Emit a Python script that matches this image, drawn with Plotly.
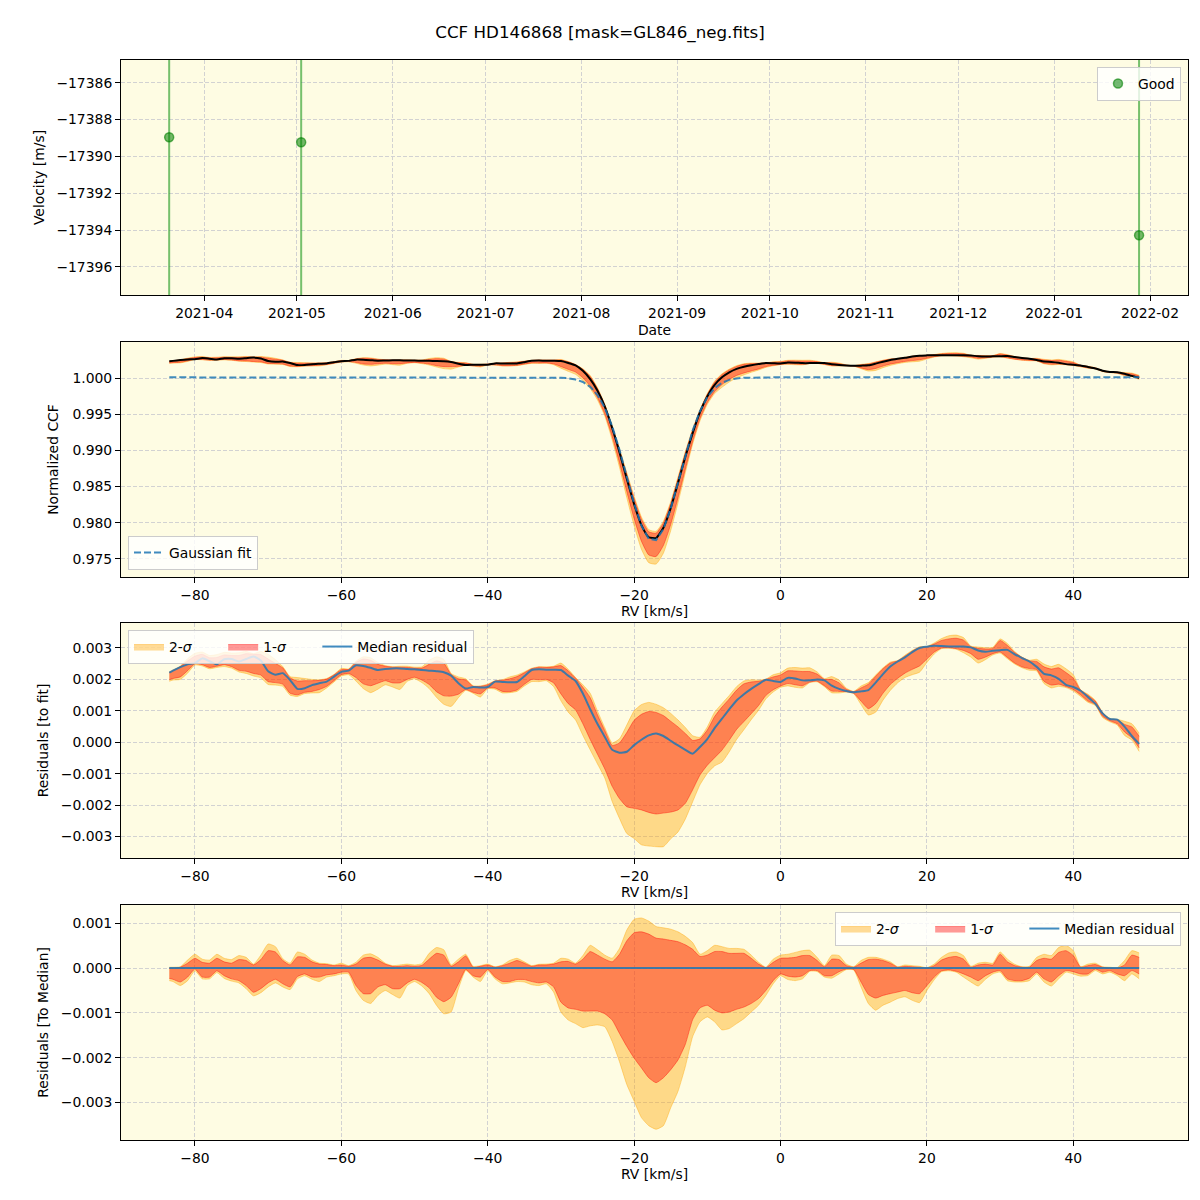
import numpy as np
import plotly.graph_objects as go

FONT = "DejaVu Sans"
TITLE = "CCF HD146868 [mask=GL846_neg.fits]"

# ---------------- Panel 1 : RV time series ----------------
obs_dates = ["2021-03-20 16:00", "2021-05-02 09:00", "2022-01-28 11:00"]
obs_vel = [-17388.96, -17389.23, -17394.28]
obs_err = [30.0, 30.0, 30.0]

# ---------------- CCF grid (km/s) ----------------
rv = [-83.5] + list(range(-83, 50))

# Gaussian fit parameters
fit_continuum = 1.0001
fit_depth = 0.02265
fit_center = -17.4
fit_sigma = 3.6

# median residual to fit, units of 1e-4
median_resid_e4 = [
    22.2, 22.8, 23.9, 24.8, 25.2, 26.7, 25.8, 24.8, 26.4, 26.5,   # -83.5 .. -75
    25.7, 26.5, 27.3, 26.0, 22.6, 21.5, 22.0, 19.8, 17.0, 17.2,   # -74 .. -65
    18.2, 18.8, 19.3, 20.9, 22.4, 22.8, 24.5, 24.3, 23.7, 23.0,   # -64 .. -55
    23.3, 23.5, 23.5, 23.3, 23.2, 23.0, 22.8, 22.6, 22.3, 21.2,   # -54 .. -45
    18.8, 17.1, 17.6, 17.4, 17.6, 19.3, 19.2, 19.1, 19.2, 21.0,   # -44 .. -35
    23.0, 23.2, 23.1, 23.1, 23.0, 21.2, 19.5, 15.5, 10.5, 5.8,    # -34 .. -25
    1.7, -2.4, -3.3, -3.0, -0.9, 0.8, 2.2, 2.8, 2.0, 0.5,         # -24 .. -15
    -1.0, -2.4, -3.6, -1.5, 1.0, 4.5, 7.5, 10.5, 13.3, 15.3,      # -14 .. -5
    17.0, 18.5, 19.9, 19.5, 19.2, 20.5, 20.3, 19.7, 19.7, 20.0,   # -4 .. 5
    19.7, 18.0, 17.0, 16.3, 15.9, 16.2, 16.6, 19.0, 21.7, 24.1,   # 6 .. 15
    25.7, 27.0, 28.7, 30.0, 30.4, 30.7, 30.6, 30.5, 30.5, 30.5,   # 16 .. 25
    30.2, 29.2, 28.8, 29.1, 29.3, 29.4, 28.0, 26.8, 25.7, 24.0,   # 26 .. 35
    21.8, 21.3, 20.2, 18.3, 17.6, 16.4, 14.4, 12.3, 9.2, 7.4,     # 36 .. 45
    7.2, 5.0, 2.0, -0.5,                                          # 46 .. 49
]

# percentile bands relative to the median residual, units of 1e-4
hi2_e4 = [
    0.2, 0.2, 0.3, 1.8, 3.1, 2.0, 1.8, 3.1, 2.2, 1.9,
    2.8, 2.4, 0.9, 2.9, 5.4, 4.8, 2.1, 1.1, 3.6, 3.1,
    1.8, 1.1, 1.0, 0.7, 1.1, 0.55, 1.3, 2.9, 3.2, 2.4,
    1.1, 0.55, 0.7, 0.9, 0.7, 1.0, 3.3, 4.6, 4.1, 0.7,
    2.0, 3.1, 0.4, 0.55, 0.9, 0.3, 0.7, 1.7, 2.2, 1.4,
    0.55, 0.85, 0.9, 1.1, 2.2, 2.0, 1.1, 2.8, 5.1, 4.1,
    2.9, 2.2, 4.4, 8.5, 10.9, 11.2, 10.5, 9.3, 9.0, 8.7,
    8.1, 7.1, 5.7, 3.1, 3.9, 5.1, 4.8, 4.4, 4.4, 4.2,
    2.9, 1.3, 0.2, 2.0, 2.9, 3.1, 3.5, 3.9, 4.0, 2.4,
    0.55, 2.9, 2.8, 0.9, 0.3, 1.7, 2.4, 2.4, 2.0, 1.4,
    0.3, 0.7, 0.55, 0.4, 0.1, 0.9, 2.4, 3.4, 3.6, 2.8,
    0.4, 1.1, 1.3, 1.1, 3.6, 2.0, 0.85, 0.3, 0.4, 2.4,
    3.1, 2.8, 4.6, 5.1, 3.9, 0.3, 0.9, 1.1, 0.3, 0.2,
    0.1, 1.7, 3.9, 3.4,
]
hi1_e4 = [
    0.0, 0.0, 0.2, 1.1, 2.2, 1.3, 1.1, 2.2, 1.4, 1.1,
    1.9, 1.7, 0.7, 1.9, 3.9, 3.6, 1.7, 0.7, 2.5, 2.4,
    1.4, 0.9, 0.8, 0.55, 0.7, 0.4, 0.9, 2.2, 2.4, 1.8,
    0.9, 0.4, 0.4, 0.55, 0.4, 0.6, 2.0, 3.3, 2.9, 0.4,
    1.4, 2.7, 0.2, 0.4, 0.7, 0.2, 0.55, 1.1, 1.7, 1.1,
    0.4, 0.7, 0.7, 0.9, 1.4, 1.5, 0.9, 2.0, 3.7, 2.9,
    2.0, 1.4, 3.1, 6.1, 7.9, 8.1, 7.6, 6.7, 6.5, 6.2,
    5.9, 5.2, 4.2, 2.6, 2.9, 3.7, 3.7, 3.3, 3.3, 3.3,
    2.2, 0.9, 0.1, 1.3, 2.2, 2.25, 2.4, 2.8, 2.8, 1.7,
    0.3, 2.0, 1.9, 0.55, 0.2, 1.1, 1.9, 2.0, 1.7, 1.1,
    0.2, 0.4, 0.3, 0.2, 0.0, 0.55, 1.8, 2.4, 2.6, 2.0,
    0.2, 0.7, 0.9, 0.7, 3.1, 1.4, 0.55, 0.2, 0.2, 1.7,
    2.2, 2.0, 3.5, 3.9, 2.8, 0.2, 0.55, 0.8, 0.2, 0.0,
    0.0, 0.7, 2.9, 2.4,
]
lo1_e4 = [
    -2.3, -2.5, -3.1, -2.0, -0.2, -2.0, -2.0, -0.6, -1.7, -2.4,
    -2.8, -3.9, -5.4, -4.6, -3.3, -2.5, -3.5, -4.2, -1.9, -1.3,
    -2.0, -2.0, -1.5, -1.3, -0.9, -0.9, -3.9, -5.7, -5.7, -4.2,
    -3.7, -4.6, -4.6, -3.3, -2.5, -3.2, -4.4, -6.5, -7.5, -6.5,
    -3.5, -0.3, -1.7, -2.0, -0.3, -2.0, -3.0, -3.0, -2.55, -2.55,
    -3.0, -3.3, -3.1, -4.2, -7.6, -8.9, -9.2, -9.6, -9.6, -9.6,
    -10.2, -11.6, -14.6, -17.5, -20.1, -22.3, -24.5, -25.6, -24.5, -22.7,
    -20.5, -17.0, -11.5, -8.9, -8.3, -9.4, -10.0, -9.8, -9.2, -8.7,
    -7.9, -6.8, -5.0, -2.8, -1.3, -1.8, -2.0, -1.7, -0.55, -0.55,
    -1.7, -1.7, -0.8, -0.2, -0.3, -3.1, -5.9, -6.7, -6.1, -5.7,
    -5.35, -5.0, -5.5, -5.7, -3.9, -2.0, -0.6, -0.4, -0.7, -1.3,
    -2.0, -2.8, -1.7, -0.9, -0.55, -2.4, -2.8, -2.8, -2.25, -0.9,
    -2.4, -3.1, -1.7, -0.55, -0.8, -1.3, -1.3, -0.2, -0.9, -0.55,
    -1.3, -1.7, -0.55, -1.3,
]
lo2_e4 = [
    -2.8, -3.0, -3.9, -2.8, -0.6, -2.4, -2.4, -1.0, -2.3, -2.9,
    -3.3, -4.6, -6.2, -5.5, -4.2, -3.3, -4.2, -4.8, -2.4, -1.7,
    -2.5, -3.0, -2.0, -1.7, -1.3, -1.3, -5.0, -7.2, -7.9, -6.1,
    -5.0, -5.9, -6.7, -3.9, -3.0, -4.0, -5.7, -8.3, -10.2, -9.8,
    -4.6, -0.55, -2.0, -3.0, -0.55, -2.4, -3.5, -3.3, -3.0, -3.1,
    -3.7, -3.9, -3.5, -5.35, -9.8, -11.6, -12.4, -13.3, -12.9, -12.7,
    -13.1, -16.4, -20.9, -26.0, -29.7, -33.4, -35.2, -36.0, -35.2, -31.2,
    -27.5, -22.0, -15.3, -12.0, -10.9, -12.0, -13.8, -13.5, -12.4, -11.3,
    -9.8, -8.3, -6.1, -3.5, -1.7, -2.55, -2.8, -2.4, -0.7, -0.77,
    -2.0, -2.25, -1.3, -0.33, -0.41, -4.2, -7.9, -9.4, -8.3, -7.6,
    -6.8, -6.4, -7.2, -7.7, -5.0, -2.6, -0.8, -0.6, -0.9, -2.0,
    -3.1, -4.0, -2.5, -1.3, -0.9, -2.8, -3.1, -3.1, -2.8, -1.3,
    -3.1, -4.0, -2.4, -0.9, -1.3, -1.8, -1.66, -0.55, -1.3, -0.9,
    -1.66, -2.8, -1.3, -2.4,
]

UNIT = 1e-4
x = np.array(rv, dtype=float)
med = np.array(median_resid_e4) * UNIT
d_hi2 = np.array(hi2_e4) * UNIT
d_hi1 = np.array(hi1_e4) * UNIT
d_lo1 = np.array(lo1_e4) * UNIT
d_lo2 = np.array(lo2_e4) * UNIT
gauss = fit_continuum - fit_depth * np.exp(-0.5 * ((x - fit_center) / fit_sigma) ** 2)
ccf = gauss + med

C2 = "rgba(255,165,0,0.40)"
C1 = "rgba(255,0,0,0.40)"
CMED = "rgba(31,119,180,0.85)"
PAD = "\u00a0" * 6  # legend column spacing

fig = go.Figure()


def add_bands(base, xa, ya, leg=None):
    shape = dict(shape="spline", smoothing=0.5)
    fig.add_trace(go.Scatter(x=x, y=base + d_lo2, mode="lines", line=dict(color=C2, width=1, **shape),
                             showlegend=False, xaxis=xa, yaxis=ya, hoverinfo="skip"))
    fig.add_trace(go.Scatter(x=x, y=base + d_hi2, mode="lines", line=dict(color=C2, width=1, **shape),
                             fill="tonexty", fillcolor=C2, name="2-<i>σ</i>" + PAD,
                             showlegend=leg is not None, legend=leg or "legend",
                             xaxis=xa, yaxis=ya, hoverinfo="skip"))
    fig.add_trace(go.Scatter(x=x, y=base + d_lo1, mode="lines", line=dict(color=C1, width=1, **shape),
                             showlegend=False, xaxis=xa, yaxis=ya, hoverinfo="skip"))
    fig.add_trace(go.Scatter(x=x, y=base + d_hi1, mode="lines", line=dict(color=C1, width=1, **shape),
                             fill="tonexty", fillcolor=C1, name="1-<i>σ</i>" + PAD,
                             showlegend=leg is not None, legend=leg or "legend",
                             xaxis=xa, yaxis=ya, hoverinfo="skip"))


# Panel 1
fig.add_trace(go.Scatter(
    x=obs_dates, y=obs_vel, mode="markers", name="Good",
    marker=dict(size=9, color="rgba(0,128,0,0.55)", line=dict(width=1.5, color="rgba(0,128,0,0.6)")),
    error_y=dict(type="data", array=obs_err, color="rgba(44,160,44,0.65)", thickness=2, width=0),
    xaxis="x", yaxis="y", legend="legend"))

# Panel 2
add_bands(gauss + med, "x2", "y2")
fig.add_trace(go.Scatter(x=x, y=ccf, mode="lines", line=dict(color="black", width=2, shape="spline", smoothing=0.5),
                         showlegend=False, xaxis="x2", yaxis="y2"))
fig.add_trace(go.Scatter(x=x, y=gauss, mode="lines", name="Gaussian fit",
                         line=dict(color=CMED, width=2, dash="7px,3px"),
                         xaxis="x2", yaxis="y2", legend="legend2"))

# Panel 3
add_bands(med, "x3", "y3", leg="legend3")
fig.add_trace(go.Scatter(x=x, y=med, mode="lines", name="Median residual",
                         line=dict(color=CMED, width=2, shape="spline", smoothing=0.5),
                         xaxis="x3", yaxis="y3", legend="legend3"))

# Panel 4
add_bands(np.zeros_like(x), "x4", "y4", leg="legend4")
fig.add_trace(go.Scatter(x=x, y=np.zeros_like(x), mode="lines", name="Median residual",
                         line=dict(color=CMED, width=2),
                         xaxis="x4", yaxis="y4", legend="legend4"))

tickfont = dict(family=FONT, size=13.9, color="black")
common = dict(showline=True, linecolor="black", linewidth=1, mirror=True,
              ticks="outside", ticklen=5, tickwidth=1, tickcolor="black",
              showgrid=True, gridcolor="#d2d2d2", gridwidth=1, griddash="4px,2px",
              zeroline=False, tickfont=tickfont, automargin=False)

XD = [121 / 1200, 1188 / 1200]


def ydom(top, bot):
    return [1 - bot / 1200, 1 - top / 1200]


rv_range = [-90.1, 55.67]
fig.update_layout(
    width=1200, height=1200,
    margin=dict(l=0, r=0, t=0, b=0),
    paper_bgcolor="white", plot_bgcolor="#fefce3",
    font=dict(family=FONT, size=13.9, color="black"),
    title=dict(text=TITLE, x=0.5, xanchor="center", y=1 - 32 / 1200, yanchor="middle",
               font=dict(family=FONT, size=16.7, color="black")),
    xaxis=dict(domain=XD, anchor="y", type="date", range=["2021-03-05 02:00", "2022-02-13 07:00"],
               dtick="M1", tick0="2021-04-01", tickformat="%Y-%m",
               title=dict(text="Date", standoff=5, font=tickfont), **common),
    yaxis=dict(domain=ydom(60, 295), anchor="x", range=[-17397.52, -17384.77], dtick=2, tick0=0,
               tickformat="d", title=dict(text="Velocity [m/s]", standoff=8, font=tickfont), **common),
    xaxis2=dict(domain=XD, anchor="y2", range=rv_range, dtick=20, tick0=0,
                title=dict(text="RV [km/s]", standoff=4, font=tickfont), **common),
    yaxis2=dict(domain=ydom(342, 577), anchor="x2", range=[0.97248, 1.00499], dtick=0.005, tick0=0,
                tickformat=".3f", title=dict(text="Normalized CCF", standoff=10, font=tickfont), **common),
    xaxis3=dict(domain=XD, anchor="y3", range=rv_range, dtick=20, tick0=0,
                title=dict(text="RV [km/s]", standoff=4, font=tickfont), **common),
    yaxis3=dict(domain=ydom(623, 858), anchor="x3", range=[-0.00368, 0.003795], dtick=0.001, tick0=0,
                tickformat=".3f", title=dict(text="Residuals [to fit]", standoff=8, font=tickfont), **common),
    xaxis4=dict(domain=XD, anchor="y4", range=rv_range, dtick=20, tick0=0,
                title=dict(text="RV [km/s]", standoff=4, font=tickfont), **common),
    yaxis4=dict(domain=ydom(905, 1140), anchor="x4", range=[-0.00384, 0.00141], dtick=0.001, tick0=0,
                tickformat=".3f", title=dict(text="Residuals [To Median]", standoff=8, font=tickfont), **common),
)

legstyle = dict(bgcolor="rgba(255,255,255,0.8)", bordercolor="#cccccc", borderwidth=1,
                font=dict(family=FONT, size=13.9, color="black"), traceorder="normal",
                tracegroupgap=0)
fig.update_layout(
    legend=dict(x=1181 / 1200, y=1 - 67 / 1200, xanchor="right", yanchor="top", **legstyle),
    legend2=dict(x=128 / 1200, y=1 - 570 / 1200, xanchor="left", yanchor="bottom", **legstyle),
    legend3=dict(x=128 / 1200, y=1 - 630 / 1200, xanchor="left", yanchor="top", orientation="h",
                 **legstyle),
    legend4=dict(x=1181 / 1200, y=1 - 912 / 1200, xanchor="right", yanchor="top", orientation="h",
                 **legstyle),
)

fig.write_html("out.html")
